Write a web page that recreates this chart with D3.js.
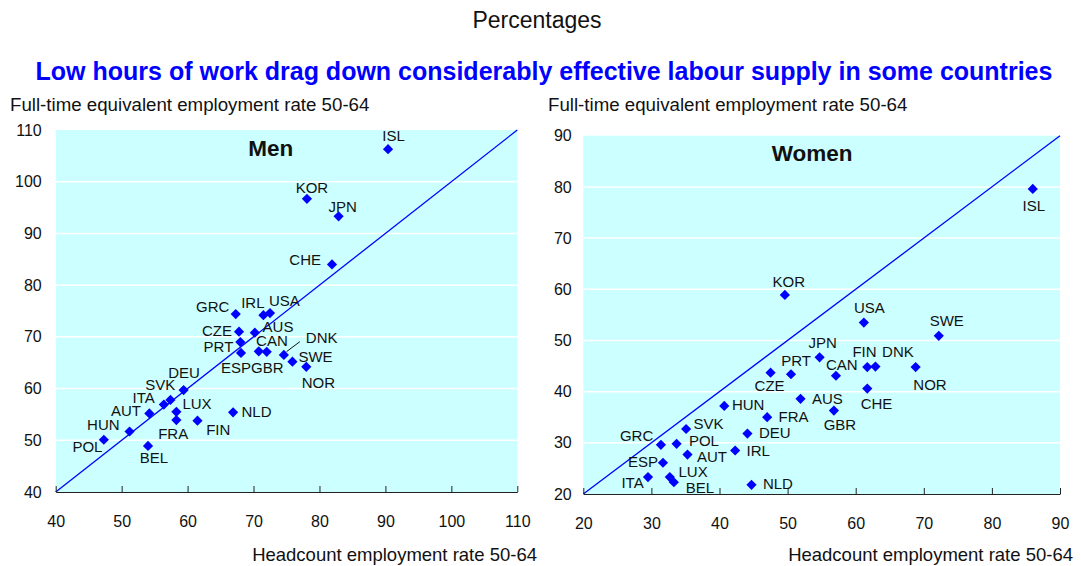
<!DOCTYPE html>
<html>
<head>
<meta charset="utf-8">
<script src="https://cdn.jsdelivr.net/npm/d3@7"></script>
<style>
  body { margin: 0; background: #fff; }
  svg text { font-family: Arial, "Liberation Sans", sans-serif; fill: #111; }
</style>
</head>
<body>
<svg id="chart" width="1081" height="566"></svg>
<script>
// Data
var countries = ["ISL", "KOR", "JPN", "CHE", "GRC", "IRL", "USA", "CZE", "AUS", "PRT", "CAN", "ESP", "GBR", "DNK",
                 "SWE", "NOR", "DEU", "SVK", "ITA", "LUX", "AUT", "HUN", "POL", "FRA", "BEL", "FIN", "NLD"];

// Men: headcount employment rate 50-64 (x) and full-time equivalent rate (y)
var menHeadcount = [90.4, 78.1, 82.9, 81.9, 67.3, 71.5, 72.5, 67.8, 70.2, 68.0, 70.8, 68.1, 72.0, 74.6,
                    75.9, 78.0, 59.4, 57.4, 56.4, 58.3, 54.2, 51.2, 47.3, 58.3, 54.0, 61.5, 66.9];
var menFte = [106.3, 96.7, 93.3, 84.0, 74.4, 74.2, 74.6, 71.0, 70.8, 69.0, 67.2, 66.9, 67.1, 66.5,
              65.2, 64.2, 59.7, 57.8, 56.9, 55.5, 55.2, 51.7, 50.1, 53.9, 48.9, 53.8, 55.4];

// Women
var womenHeadcount = [86.0, 49.6, 54.7, 61.7, 31.4, 42.3, 61.2, 47.5, 51.9, 50.5, 57.1, 31.7, 56.8, 62.9,
                      72.2, 68.8, 44.1, 35.1, 29.5, 32.7, 35.3, 40.7, 33.7, 47.0, 33.3, 61.7, 44.7];
var womenFte = [79.6, 58.9, 46.7, 40.6, 29.6, 28.5, 53.5, 43.7, 38.6, 43.4, 43.1, 26.1, 36.3, 44.9,
                50.9, 44.8, 31.8, 32.7, 23.3, 23.3, 27.7, 37.2, 29.8, 35.0, 22.3, 44.8, 21.8];

var menTicks = [40, 50, 60, 70, 80, 90, 100, 110];
var womenTicks = [20, 30, 40, 50, 60, 70, 80, 90];

// Label placement next to each marker: [dx, dy, anchor]
var menLabelPos = {
    ISL: [5.5, -8, "middle"], KOR: [5, -6, "middle"], JPN: [4, -4, "middle"], CHE: [-11, 1, "end"],
    GRC: [-6.4, -2, "end"], IRL: [-10.6, -6.7, "middle"], USA: [-1, -6.6, "start"], CZE: [-7, 4, "end"],
    AUS: [7.7, -0.6, "start"], PRT: [-7, 10.3, "end"], CAN: [-2.7, -5.3, "start"], ESP: [-20, 20, "start"],
    GBR: [-15.7, 20.7, "start"], DNK: [22, -12.3, "start"], SWE: [6, 0, "start"], NOR: [-4.6, 21.6, "start"],
    DEU: [0.5, -11.7, "middle"], SVK: [-10.2, -10, "middle"], ITA: [-9, -1.4, "end"], LUX: [6, -2.7, "start"],
    AUT: [-8.3, 2.7, "end"], HUN: [-10, -1, "end"], POL: [-1.4, 12.7, "end"], FRA: [-3.2, 19.3, "middle"],
    BEL: [5.9, 17.3, "middle"], FIN: [8.7, 14.3, "start"], NLD: [8.4, 5, "start"]
};
var womenLabelPos = {
    ISL: [1, 22.5, "middle"], KOR: [4, -8, "middle"], JPN: [3, -9, "middle"], CHE: [9.2, 20.6, "middle"],
    GRC: [-7.7, -4, "end"], IRL: [11.4, 6, "start"], USA: [5.5, -10, "middle"], CZE: [-1, 18.3, "middle"],
    AUS: [11.4, 5.3, "start"], PRT: [5, -8.3, "middle"], CAN: [5.8, -5.3, "middle"], ESP: [-5, 4.3, "end"],
    GBR: [6, 19.7, "middle"], DNK: [6.6, -9.3, "start"], SWE: [8, -10, "middle"], NOR: [14.4, 22.7, "middle"],
    DEU: [11.6, 4, "start"], SVK: [7.3, 0, "start"], ITA: [-4.3, 11.3, "end"], LUX: [8.7, -0.6, "start"],
    AUT: [9.4, 7.6, "start"], HUN: [7.7, 4.3, "start"], POL: [12.3, 2, "start"], FRA: [11.3, 4.7, "start"],
    BEL: [12, 10.3, "start"], FIN: [-2.8, -10.3, "middle"], NLD: [11.4, 4.3, "start"]
};

var svg = d3.select("#chart");

// Headings
svg.append("text")
    .attr("x", 537).attr("y", 28)
    .attr("text-anchor", "middle")
    .style("font-size", "23px")
    .text("Percentages");

svg.append("text")
    .attr("x", 544).attr("y", 80)
    .attr("text-anchor", "middle")
    .style("font-size", "25px")
    .style("font-weight", "bold")
    .style("fill", "#0000ff")
    .text("Low hours of work drag down considerably effective labour supply in some countries");

function drawPanel(opt) {
    var x = d3.scaleLinear().domain(d3.extent(opt.ticks)).range([opt.left, opt.right]);
    var y = d3.scaleLinear().domain(d3.extent(opt.ticks)).range([opt.bottom, opt.top]);
    var g = svg.append("g");

    // Plot background
    g.append("rect")
        .attr("x", opt.left).attr("y", opt.top)
        .attr("width", opt.right - opt.left)
        .attr("height", opt.bottom - opt.top)
        .attr("fill", "#ccffff");

    // White gridlines
    g.selectAll(".grid")
        .data(opt.ticks.slice(1, -1))
        .enter().append("line")
        .attr("x1", opt.left).attr("x2", opt.right)
        .attr("y1", function(d) { return y(d); })
        .attr("y2", function(d) { return y(d); })
        .attr("stroke", "#fff")
        .attr("stroke-width", 1.5);

    // 45 degree line
    var lo = opt.ticks[0], hi = opt.ticks[opt.ticks.length - 1];
    g.append("line")
        .attr("x1", x(lo)).attr("y1", y(lo))
        .attr("x2", x(hi)).attr("y2", y(hi))
        .attr("stroke", "#0000ff")
        .attr("stroke-width", 1.3);

    // X axis
    var xAxis = d3.axisBottom(x)
        .tickValues(opt.ticks)
        .tickSizeInner(-6)
        .tickSizeOuter(0)
        .tickPadding(23.5)
        .tickFormat(d3.format("d"));
    var xg = g.append("g")
        .attr("transform", "translate(0," + opt.bottom + ")")
        .attr("font-family", null)
        .call(xAxis);
    xg.attr("font-family", null);
    xg.selectAll("line, path").attr("stroke", "#222");
    xg.selectAll("text").style("font-size", "16px").attr("fill", "#111");

    // Y axis labels only
    var yAxis = d3.axisLeft(y)
        .tickValues(opt.ticks)
        .tickSize(0)
        .tickPadding(opt.yPad)
        .tickFormat(d3.format("d"));
    var yg = g.append("g")
        .attr("transform", "translate(" + opt.left + ",0)")
        .call(yAxis);
    yg.attr("font-family", null);
    yg.select(".domain").remove();
    yg.selectAll("text").style("font-size", "16px").attr("fill", "#111");

    // Axis titles
    g.append("text")
        .attr("x", opt.yTitleX).attr("y", 111)
        .style("font-size", "18.7px")
        .text("Full-time equivalent employment rate 50-64");
    g.append("text")
        .attr("x", opt.xTitleX).attr("y", 561)
        .attr("text-anchor", "end")
        .style("font-size", "18.5px")
        .text("Headcount employment rate 50-64");

    // Panel name
    g.append("text")
        .attr("x", opt.nameX).attr("y", opt.top + 25.5)
        .style("font-size", "22.5px")
        .style("font-weight", "bold")
        .text(opt.name);

    var points = countries.map(function(c, i) {
        return { code: c, hx: opt.xs[i], fy: opt.ys[i] };
    });

    // Leader line for DNK on the men panel
    if (opt.leader) {
        var dnk = points.find(function(p) { return p.code === opt.leader; });
        g.append("line")
            .attr("x1", x(dnk.hx) + 2.7).attr("y1", y(dnk.fy) - 3.3)
            .attr("x2", x(dnk.hx) + 16).attr("y2", y(dnk.fy) - 13.3)
            .attr("stroke", "#111")
            .attr("stroke-width", 1);
    }

    // Diamond markers
    g.selectAll(".pt")
        .data(points)
        .enter().append("path")
        .attr("d", d3.symbol().type(d3.symbolSquare).size(52))
        .attr("transform", function(d) {
            return "translate(" + x(d.hx) + "," + y(d.fy) + ") rotate(45)";
        })
        .attr("fill", "#0000ff");

    // Country labels
    g.selectAll(".lbl")
        .data(points)
        .enter().append("text")
        .attr("x", function(d) { return x(d.hx) + opt.labels[d.code][0]; })
        .attr("y", function(d) { return y(d.fy) + opt.labels[d.code][1]; })
        .attr("text-anchor", function(d) { return opt.labels[d.code][2]; })
        .style("font-size", "15px")
        .text(function(d) { return d.code; });
}

drawPanel({
    name: "Men", xs: menHeadcount, ys: menFte, ticks: menTicks, labels: menLabelPos,
    left: 55.7, right: 517.3, top: 130, bottom: 492,
    yPad: 14, yTitleX: 10, xTitleX: 537, nameX: 248.3, leader: "DNK"
});

drawPanel({
    name: "Women", xs: womenHeadcount, ys: womenFte, ticks: womenTicks, labels: womenLabelPos,
    left: 583.3, right: 1060, top: 135.7, bottom: 494,
    yPad: 11.6, yTitleX: 548, xTitleX: 1073, nameX: 771.7
});
</script>
</body>
</html>
